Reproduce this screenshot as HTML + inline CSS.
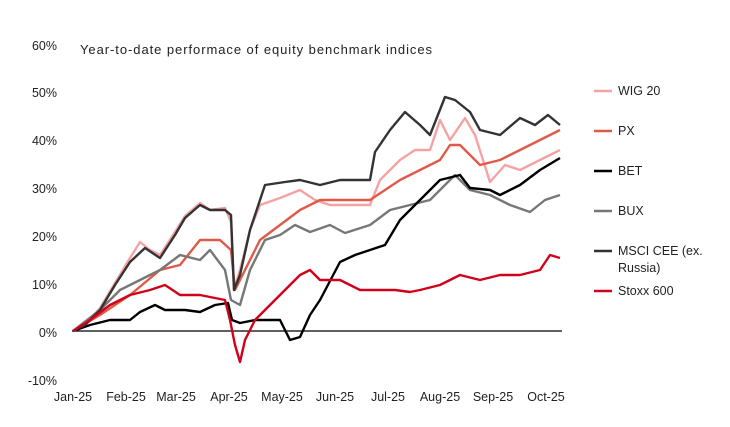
<!DOCTYPE html>
<html><head><meta charset="utf-8"><style>
body{margin:0;background:#fff;}
svg{display:block;font-family:"Liberation Sans",sans-serif;}
</style></head><body>
<svg width="730" height="427" viewBox="0 0 730 427">
<g font-size="12.5" fill="#222" text-anchor="end">
<text x="57" y="50">60%</text><text x="57" y="97">50%</text><text x="57" y="145">40%</text>
<text x="57" y="193">30%</text><text x="57" y="241">20%</text><text x="57" y="289">10%</text>
<text x="57" y="337">0%</text><text x="57" y="385">-10%</text>
</g>
<text x="80" y="54" font-size="13" fill="#222" textLength="352" lengthAdjust="spacing">Year-to-date performace of equity benchmark indices</text>
<g font-size="12.5" fill="#222" text-anchor="middle">
<text x="73" y="401">Jan-25</text><text x="126" y="401">Feb-25</text><text x="176" y="401">Mar-25</text>
<text x="229" y="401">Apr-25</text><text x="282" y="401">May-25</text><text x="335" y="401">Jun-25</text>
<text x="388" y="401">Jul-25</text><text x="440" y="401">Aug-25</text><text x="493" y="401">Sep-25</text>
<text x="546" y="401">Oct-25</text>
</g>
<line x1="72" y1="331" x2="562" y2="331" stroke="#000" stroke-width="1.3"/>
<g fill="none" stroke-width="2.4" stroke-linejoin="round">
<polyline stroke="#f4a3a3" points="73,331 85,325 100,308 115,283 130,258 140,242 150,250 160,255 175,232 185,216 200,203 210,210 225,208 231,222 234,290 240,270 250,230 260,205 280,198 300,190 315,200 330,205 345,205 370,205 380,180 400,160 415,150 430,150 440,120 450,140 465,118 475,135 490,182 505,165 520,170 540,160 560,150"/>
<polyline stroke="#e05a4a" points="73,331 100,315 130,295 160,270 180,265 200,240 220,240 231,250 235,290 245,270 260,240 280,225 300,210 320,200 340,200 370,200 385,190 400,180 420,170 440,160 450,145 460,145 480,165 500,160 520,150 540,140 560,130"/>
<polyline stroke="#777" points="73,331 100,310 120,290 140,280 160,270 180,255 200,260 210,250 225,270 231,300 240,305 250,270 265,240 280,235 295,225 310,232 330,225 345,233 370,225 390,210 410,205 430,200 440,190 455,175 470,190 490,195 510,205 530,212 545,200 560,195"/>
<polyline stroke="#000" points="73,331 90,325 110,320 130,320 140,312 155,305 165,310 185,310 200,312 215,305 228,303 232,320 240,323 255,320 280,320 290,340 300,337 310,315 320,300 340,262 355,255 370,250 385,245 400,220 420,200 440,180 460,175 470,188 490,190 500,195 520,185 540,170 560,158"/>
<polyline stroke="#333" points="73,331 85,325 100,310 115,285 130,262 145,248 160,258 175,235 185,218 200,205 210,210 225,210 231,215 234,290 240,275 250,230 265,185 285,182 300,180 320,185 340,180 370,180 375,152 390,130 405,112 420,125 430,135 445,97 455,100 470,112 480,130 500,135 520,118 535,125 548,115 560,125"/>
<polyline stroke="#d0021b" points="73,331 90,320 110,305 130,295 150,290 165,285 180,295 200,295 225,300 230,320 235,345 240,362 245,340 255,320 270,305 285,290 300,275 310,270 320,280 340,280 360,290 375,290 395,290 410,292 420,290 440,285 460,275 480,280 500,275 520,275 540,270 550,255 560,258"/>
</g>
<g stroke-width="2.5">
<line x1="594" y1="91" x2="612" y2="91" stroke="#f4a3a3"/>
<line x1="594" y1="131" x2="612" y2="131" stroke="#e05a4a"/>
<line x1="594" y1="171" x2="612" y2="171" stroke="#000"/>
<line x1="594" y1="211" x2="612" y2="211" stroke="#777"/>
<line x1="594" y1="251" x2="612" y2="251" stroke="#333"/>
<line x1="594" y1="291" x2="612" y2="291" stroke="#d0021b"/>
</g>
<g font-size="12.5" fill="#222">
<text x="618" y="95">WIG 20</text><text x="618" y="135">PX</text><text x="618" y="175">BET</text>
<text x="618" y="215">BUX</text><text x="618" y="255">MSCI CEE (ex.</text><text x="618" y="272">Russia)</text>
<text x="618" y="295">Stoxx 600</text>
</g>
</svg>
</body></html>
